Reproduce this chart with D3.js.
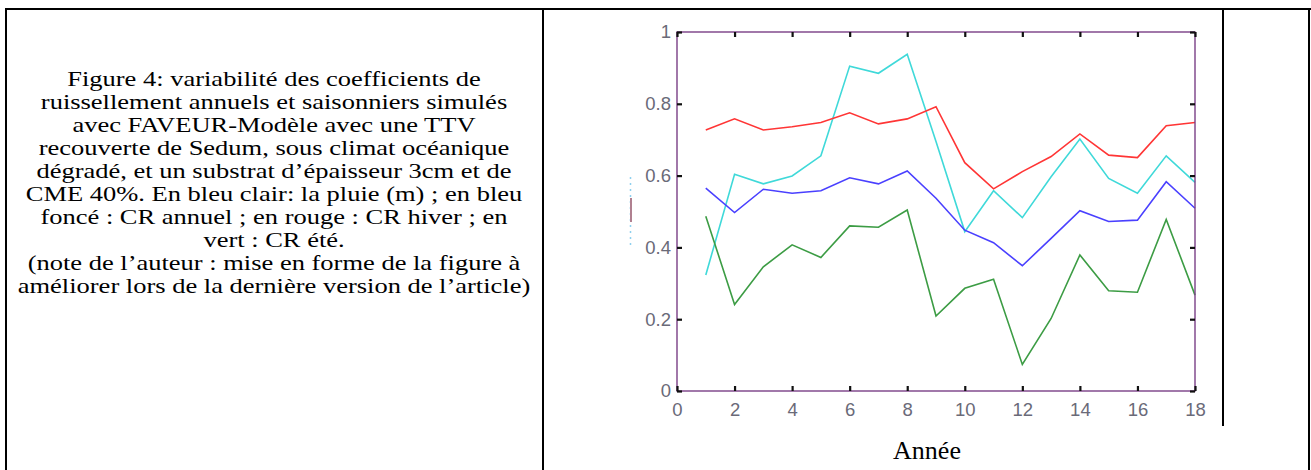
<!DOCTYPE html>
<html>
<head>
<meta charset="utf-8">
<script src="https://cdn.jsdelivr.net/npm/d3@7"></script>
<style>
  body { margin: 0; background: #fff; }
  svg { display: block; }
</style>
</head>
<body>
<svg id="chart"></svg>
<script>
const years = [1, 2, 3, 4, 5, 6, 7, 8, 9, 10, 11, 12, 13, 14, 15, 16, 17, 18];

// bleu clair : la pluie (m)
const pluie = [0.323, 0.604, 0.577, 0.599, 0.655, 0.905, 0.885, 0.938, 0.695,
    0.444, 0.558, 0.483, 0.597, 0.702, 0.592, 0.551, 0.655, 0.581];
// bleu foncé : CR annuel
const crAnnuel = [0.565, 0.497, 0.562, 0.551, 0.558, 0.594, 0.577, 0.613, 0.537,
    0.448, 0.413, 0.349, 0.425, 0.502, 0.472, 0.476, 0.583, 0.509];
// rouge : CR hiver
const crHiver = [0.727, 0.758, 0.727, 0.736, 0.748, 0.775, 0.744, 0.758, 0.792,
    0.636, 0.563, 0.611, 0.653, 0.716, 0.657, 0.650, 0.739, 0.748];
// vert : CR été
const crEte = [0.487, 0.241, 0.346, 0.407, 0.372, 0.460, 0.456, 0.504, 0.209,
    0.286, 0.311, 0.074, 0.202, 0.379, 0.279, 0.275, 0.478, 0.267];

const xTicks = [0, 2, 4, 6, 8, 10, 12, 14, 16, 18];
const yTicks = [0, 0.2, 0.4, 0.6, 0.8, 1];

const caption = [
    "Figure 4: variabilité des coefficients de",
    "ruissellement annuels et saisonniers simulés",
    "avec FAVEUR-Modèle avec une TTV",
    "recouverte de Sedum, sous climat océanique",
    "dégradé, et un substrat d’épaisseur 3cm et de",
    "CME 40%. En bleu clair: la pluie (m) ; en bleu",
    "foncé : CR annuel ; en rouge : CR hiver ; en",
    "vert : CR été.",
    "(note de l’auteur : mise en forme de la figure à",
    "améliorer lors de la dernière version de l’article)"
];
const xLabel = "Année";

const series = [
    {values: pluie, color: "#3fd9d9"},
    {values: crAnnuel, color: "#4a40ff"},
    {values: crHiver, color: "#ff3535"},
    {values: crEte, color: "#3c9c44"}
];

const width = 1311;
const height = 470;
const plotLeft = 677;
const plotRight = 1195;
const plotTop = 32;
const plotBottom = 391;

const svg = d3.select("#chart")
    .attr("width", width)
    .attr("height", height)
    .attr("viewBox", [0, 0, width, height]);

// table borders
const border = svg.append("g").attr("stroke", "#000").attr("stroke-width", 2);
border.append("line").attr("x1", 5).attr("x2", width).attr("y1", 9).attr("y2", 9);
border.append("line").attr("x1", 6).attr("x2", 6).attr("y1", 8).attr("y2", height);
border.append("line").attr("x1", 543).attr("x2", 543).attr("y1", 8).attr("y2", height);
border.append("line").attr("x1", 1309).attr("x2", 1309).attr("y1", 8).attr("y2", height);
border.append("line").attr("x1", 1223).attr("x2", 1223).attr("y1", 8).attr("y2", 426);

// caption (the scanned text is squeezed vertically)
svg.append("g")
    .attr("font-family", "'Liberation Serif', 'Times New Roman', serif")
    .attr("font-size", 26.5)
    .attr("text-anchor", "middle")
    .attr("fill", "#000")
    .selectAll("text")
    .data(caption)
    .join("text")
    .attr("transform", (d, i) => `translate(274,${86 + i * 23}) scale(1,0.8)`)
    .text(d => d);

// chart
const x = d3.scaleLinear().domain([0, 18]).range([plotLeft, plotRight]);
const y = d3.scaleLinear().domain([0, 1]).range([plotBottom, plotTop]);

// faint leftover of the y label
svg.append("line")
    .attr("x1", 630.5).attr("x2", 630.5).attr("y1", 177).attr("y2", 246)
    .attr("stroke", "#8fd0ee").attr("stroke-width", 1.5)
    .attr("stroke-dasharray", "2,4");
svg.append("line")
    .attr("x1", 631).attr("x2", 631).attr("y1", 198).attr("y2", 222)
    .attr("stroke", "#b08090").attr("stroke-width", 2);

const line = d3.line()
    .x((d, i) => x(years[i]))
    .y(d => y(d));

svg.append("g")
    .attr("fill", "none")
    .attr("stroke-width", 1.6)
    .selectAll("path")
    .data(series)
    .join("path")
    .attr("stroke", d => d.color)
    .attr("d", d => line(d.values));

// box
svg.append("rect")
    .attr("x", plotLeft).attr("y", plotTop)
    .attr("width", plotRight - plotLeft).attr("height", plotBottom - plotTop)
    .attr("fill", "none")
    .attr("stroke", "#7a3f86")
    .attr("stroke-width", 1.4);

const tickStyle = g => {
    g.select(".domain").remove();
    g.selectAll(".tick line").attr("stroke", "#111").attr("stroke-width", 2.2);
    g.selectAll(".tick text")
        .attr("fill", "#6a6a78")
        .attr("font-family", "'Liberation Sans', Arial, sans-serif")
        .attr("font-size", 18.5);
};

svg.append("g")
    .attr("transform", `translate(0,${plotBottom})`)
    .call(d3.axisBottom(x).tickValues(xTicks).tickSize(-5).tickPadding(12).tickFormat(d3.format("d")))
    .call(tickStyle);

svg.append("g")
    .attr("transform", `translate(0,${plotTop})`)
    .call(d3.axisTop(x).tickValues(xTicks).tickSize(-5).tickFormat(""))
    .call(tickStyle);

svg.append("g")
    .attr("transform", `translate(${plotLeft},0)`)
    .call(d3.axisLeft(y).tickValues(yTicks).tickSize(-5).tickPadding(6).tickFormat(d => d === 0 || d === 1 ? d : d3.format(".1f")(d)))
    .call(tickStyle);

svg.append("g")
    .attr("transform", `translate(${plotRight},0)`)
    .call(d3.axisRight(y).tickValues(yTicks).tickSize(-5).tickFormat(""))
    .call(tickStyle);

svg.append("text")
    .attr("x", 927)
    .attr("y", 459)
    .attr("text-anchor", "middle")
    .attr("font-family", "'Liberation Serif', 'Times New Roman', serif")
    .attr("font-size", 26)
    .attr("fill", "#000")
    .text(xLabel);
</script>
</body>
</html>
